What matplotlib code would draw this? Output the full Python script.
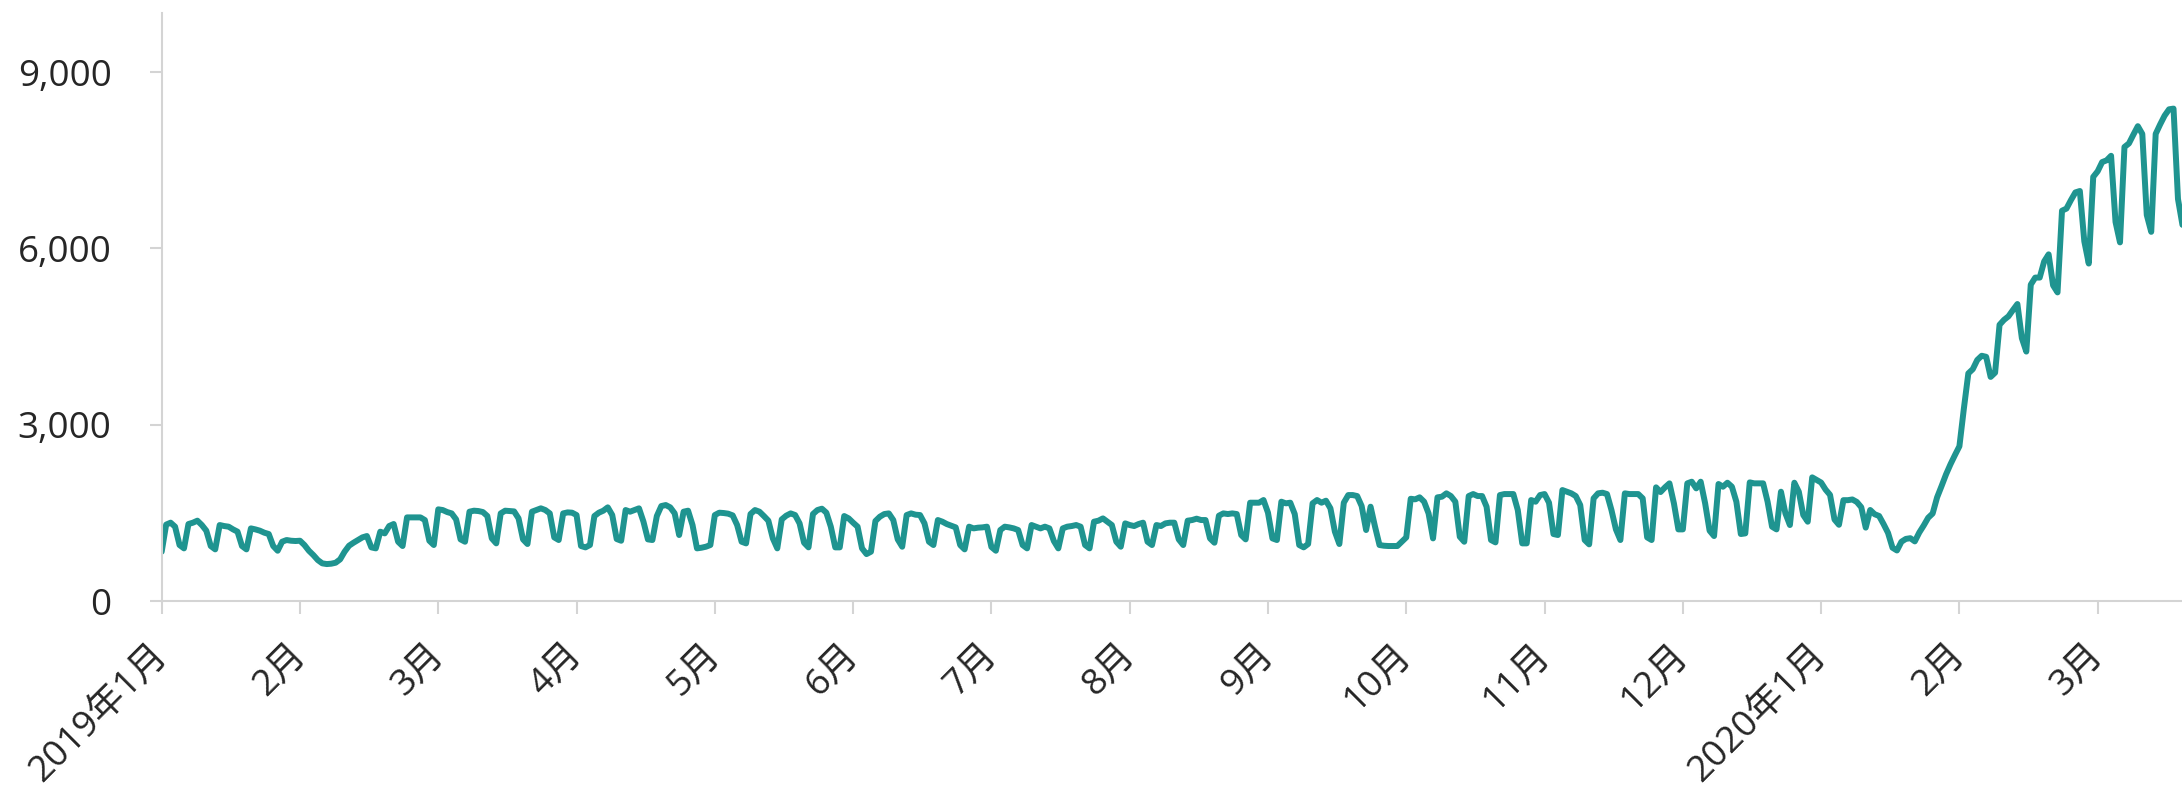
import numpy as np
import pandas as pd
import matplotlib
matplotlib.use('Agg')
import matplotlib.pyplot as plt

plt.rcParams['font.family'] = ['Open Sans', 'Noto Sans CJK SC', 'DejaVu Sans']

# daily values, one list per month
jan19 = [839, 1300, 1333, 1265, 953, 896, 1310, 1333, 1367, 1293, 1197, 936, 879, 1293, 1276, 1265,
         1219, 1180, 936, 879, 1236, 1219, 1197, 1163, 1140, 936, 856, 1009, 1038, 1026, 1021]
feb19 = [1026, 953, 856, 782, 697, 641, 629, 635, 652, 709, 839, 941, 992, 1038, 1083, 1106,
         913, 896, 1180, 1151, 1276, 1310, 1009, 936, 1423, 1423, 1423, 1423]
mar19 = [1378, 1026, 953, 1560, 1548, 1514, 1491, 1389, 1049, 1009, 1520, 1537, 1531, 1514, 1446, 1066,
         981, 1491, 1537, 1531, 1525, 1406, 1049, 970, 1520, 1548, 1577, 1548, 1491, 1083, 1038]
apr19 = [1491, 1508, 1503, 1463, 936, 913, 953, 1446, 1503, 1537, 1594, 1463, 1055, 1026, 1548, 1520,
         1548, 1577, 1350, 1049, 1038, 1446, 1616, 1633, 1594, 1491, 1123, 1520, 1537, 1293]
may19 = [896, 907, 924, 953, 1463, 1503, 1497, 1486, 1457, 1293, 1009, 981, 1480, 1548, 1520, 1446,
         1367, 1066, 896, 1389, 1452, 1491, 1463, 1321, 992, 913, 1480, 1548, 1571, 1503, 1265]
jun19 = [913, 913, 1446, 1406, 1333, 1265, 896, 799, 839, 1361, 1435, 1480, 1491, 1378, 1049, 924,
         1463, 1491, 1469, 1463, 1321, 1009, 953, 1378, 1350, 1310, 1282, 1253, 953, 879]
jul19 = [1265, 1236, 1248, 1253, 1265, 920, 856, 1208, 1265, 1253, 1236, 1208, 953, 896, 1293, 1265,
         1236, 1265, 1236, 1021, 896, 1236, 1265, 1276, 1293, 1265, 953, 896, 1350, 1367, 1406]
aug19 = [1350, 1293, 1009, 924, 1321, 1293, 1276, 1310, 1333, 1009, 953, 1293, 1276, 1321, 1333, 1333,
         1049, 953, 1367, 1378, 1401, 1378, 1378, 1066, 992, 1452, 1491, 1480, 1491, 1480, 1123]
sep19 = [1049, 1673, 1673, 1673, 1718, 1503, 1066, 1038, 1690, 1662, 1673, 1480, 953, 913, 970, 1662,
         1718, 1673, 1707, 1577, 1180, 970, 1673, 1803, 1803, 1786, 1616, 1208, 1605, 1265]
oct19 = [953, 941, 936, 936, 936, 1009, 1083, 1740, 1730, 1764, 1690, 1491, 1066, 1764, 1775, 1832,
         1786, 1690, 1094, 1009, 1786, 1820, 1786, 1786, 1605, 1038, 998, 1803, 1820, 1820, 1820]
nov19 = [1548, 981, 981, 1718, 1690, 1803, 1820, 1673, 1140, 1123, 1888, 1860, 1832, 1786, 1633, 1038,
         964, 1747, 1832, 1843, 1820, 1548, 1219, 1038, 1832, 1820, 1820, 1820, 1747, 1083]
dec19 = [1038, 1934, 1854, 1934, 2002, 1662, 1219, 1219, 2002, 2030, 1917, 2030, 1662, 1197, 1106, 1991,
         1945, 2013, 1945, 1690, 1140, 1151, 2019, 2002, 2002, 2002, 1690, 1265, 1219, 1860, 1491]
jan20 = [1293, 2013, 1860, 1463, 1350, 2104, 2059, 2016, 1896, 1806, 1387, 1297, 1716, 1716, 1728, 1686,
         1596, 1249, 1549, 1477, 1447, 1309, 1159, 907, 860, 1009, 1057, 1069, 1015, 1165, 1285]
feb20 = [1417, 1489, 1764, 1956, 2154, 2327, 2483, 2633, 3274, 3873, 3945, 4101, 4173, 4155, 3813, 3885,
         4700, 4784, 4844, 4951, 5053, 4472, 4244, 5383, 5503, 5503, 5778, 5898, 5371]
mar20 = [5251, 6641, 6677, 6821, 6952, 6976, 6120, 5742, 7216, 7312, 7468, 7498, 7575, 6449, 6102, 7725,
         7785, 7935, 8079, 7947, 6569, 6281, 7947, 8109, 8258, 8366, 8378, 6840, 6400]

y_ticks = [0, 3000, 6000, 9000]

# build the series
values = jan19 + feb19 + mar19 + apr19 + may19 + jun19 + jul19 + aug19 + sep19 + oct19 + nov19 + dec19 \
    + jan20 + feb20 + mar20
dates = pd.date_range('2019-01-01', periods=len(values), freq='D')
day = np.asarray((dates - dates[0]).days)

# ticks every 31 days, labelled with the month of that day
tick_idx = np.arange(0, len(values), 31)
tick_labels = []
for i in tick_idx:
    d = dates[i]
    if d.month == 1:
        tick_labels.append('%d年1月' % d.year)
    else:
        tick_labels.append('%d月' % d.month)

# plot
fig = plt.figure(figsize=(21.82, 7.90), dpi=100)
ax = fig.add_axes([0.0741, 0.2392, 0.9259, 0.7440])
ax.plot(day, values, color='#1f9490', linewidth=4.3, solid_joinstyle='round', solid_capstyle='round')

ax.set_xlim(0, 452.9)
ax.set_ylim(0, 10000)
ax.set_yticks(y_ticks)
ax.set_yticklabels(['{:,}'.format(v) for v in y_ticks])
ax.set_xticks(day[tick_idx])
ax.set_xticklabels(tick_labels, rotation=45, ha='right', va='center', rotation_mode='anchor')

for s in ['top', 'right']:
    ax.spines[s].set_visible(False)
for s in ['left', 'bottom']:
    ax.spines[s].set_color('#d4d4d4')
    ax.spines[s].set_linewidth(1.5)
ax.tick_params(axis='both', colors='#d4d4d4', length=9, width=1.5, labelcolor='#262626', labelsize=26.5)
ax.tick_params(axis='y', pad=27)
ax.tick_params(axis='x', pad=26)

fig.savefig('out.png', dpi=100)
